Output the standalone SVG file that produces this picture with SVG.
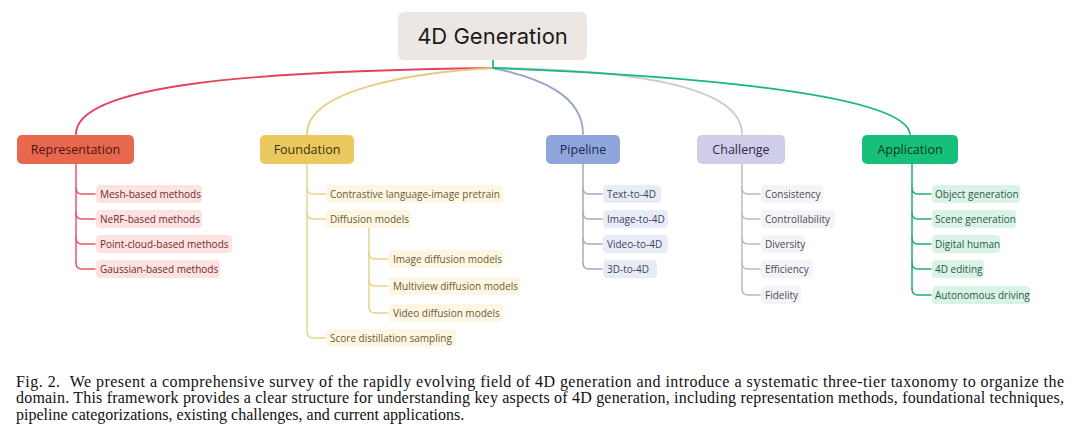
<svg xmlns="http://www.w3.org/2000/svg" width="1080" height="442" viewBox="0 0 1080 442">
<style>
.root{font-family:Inter,"Noto Sans",sans-serif;font-size:22px;fill:#1c1c1c}
.l1{font-family:"Open Sans","Noto Sans",sans-serif;font-size:12.5px}
.c{font-family:"Open Sans","Noto Sans",sans-serif;font-size:10px}
.cap{font-family:"Liberation Serif","Times New Roman",serif;font-size:16px;fill:#111}
.e{fill:none;stroke-width:1.8;stroke-linecap:round}
.b{fill:none;stroke-width:1.5;stroke-linecap:round}
.rep{stroke:#e8566a}.fou{stroke:#e5d48e}.pip{stroke:#a3abbd}.cha{stroke:#babac8}.app{stroke:#1fad78}
.prep{fill:#fde2e2}.pfou{fill:#fdf6e2}.ppip{fill:#e8ecf6}.pcha{fill:#f4f3f8}.papp{fill:#daf3e7}
.trep{fill:#6e2a2a}.tfou{fill:#6a5a32}.tpip{fill:#3a4560}.tcha{fill:#4a4a55}.tapp{fill:#2a5a45}
</style>
<rect width="1080" height="442" fill="#ffffff"/>
<g id="connectors">
  <path class="e" stroke="#18b77a" d="M493,60 V68"/>
  <path class="e" stroke="#e8405f" d="M493,68 C250,71 76,85 76,134"/>
  <path class="e" stroke="#e6c97a" d="M493,68 C420,72 307,88 307,134"/>
  <path class="e" stroke="#98a6c8" d="M493,68 C540,78 583,95 583,134"/>
  <path class="e" stroke="#cac8da" d="M493,68 C650,70 742,90 742,134"/>
  <path class="e" stroke="#18b77a" d="M493,68 C700,76 905,95 910,134"/>
  <!-- Representation -->
  <path class="b rep" d="M76,164 V263"/>
  <path class="b rep" d="M76,188 Q76,194 82,194 H95 M76,213 Q76,219 82,219 H95 M76,238 Q76,244 82,244 H95 M76,263 Q76,269 82,269 H95"/>
  <!-- Foundation -->
  <path class="b fou" d="M307,164 V332"/>
  <path class="b fou" d="M307,188 Q307,194 313,194 H326 M307,213 Q307,219 313,219 H326 M307,332 Q307,338 313,338 H326"/>
  <path class="b fou" d="M369,228 V307"/>
  <path class="b fou" d="M369,253 Q369,259 375,259 H388 M369,280 Q369,286 375,286 H388 M369,307 Q369,313 375,313 H388"/>
  <!-- Pipeline -->
  <path class="b pip" d="M583,164 V263"/>
  <path class="b pip" d="M583,188 Q583,194 589,194 H602 M583,213 Q583,219 589,219 H602 M583,238 Q583,244 589,244 H602 M583,263 Q583,269 589,269 H602"/>
  <!-- Challenge -->
  <path class="b cha" d="M742,164 V289"/>
  <path class="b cha" d="M742,188 Q742,194 748,194 H760 M742,213 Q742,219 748,219 H760 M742,238 Q742,244 748,244 H760 M742,263 Q742,269 748,269 H760 M742,289 Q742,295 748,295 H760"/>
  <!-- Application -->
  <path class="b app" d="M912,164 V289"/>
  <path class="b app" d="M912,188 Q912,194 918,194 H931 M912,213 Q912,219 918,219 H931 M912,238 Q912,244 918,244 H931 M912,263 Q912,269 918,269 H931 M912,289 Q912,295 918,295 H931"/>
</g>
<g id="root">
  <rect x="398" y="12" width="189" height="48" rx="6" fill="#ede7e4"/>
  <text class="root" x="492.5" y="43.5" text-anchor="middle">4D Generation</text>
</g>
<g id="representation">
  <rect x="17" y="135" width="117" height="29" rx="5" fill="#e8674f"/>
  <text class="l1" x="75.5" y="154" text-anchor="middle" fill="#4a150c">Representation</text>
</g>
<g id="foundation">
  <rect x="260" y="135" width="94" height="29" rx="5" fill="#ebc95f"/>
  <text class="l1" x="307" y="154" text-anchor="middle" fill="#3e300c">Foundation</text>
</g>
<g id="pipeline">
  <rect x="546" y="135" width="74" height="29" rx="5" fill="#8fa6dc"/>
  <text class="l1" x="583" y="154" text-anchor="middle" fill="#1c274a">Pipeline</text>
</g>
<g id="challenge">
  <rect x="697" y="135" width="88" height="29" rx="5" fill="#cfcde7"/>
  <text class="l1" x="741" y="154" text-anchor="middle" fill="#2c2c48">Challenge</text>
</g>
<g id="application">
  <rect x="862" y="135" width="96" height="29" rx="5" fill="#17c07a"/>
  <text class="l1" x="910" y="154" text-anchor="middle" fill="#0a3522">Application</text>
</g>
<g id="rep-children">
  <rect class="prep" x="96" y="185" width="106" height="18" rx="4"/><text class="c trep" x="100" y="197.5">Mesh-based methods</text>
  <rect class="prep" x="96" y="210" width="106" height="18" rx="4"/><text class="c trep" x="100" y="222.5">NeRF-based methods</text>
  <rect class="prep" x="96" y="235" width="136" height="18" rx="4"/><text class="c trep" x="100" y="247.5">Point-cloud-based methods</text>
  <rect class="prep" x="96" y="260" width="124" height="18" rx="4"/><text class="c trep" x="100" y="272.5">Gaussian-based methods</text>
</g>
<g id="fou-children">
  <rect class="pfou" x="326" y="185" width="177" height="18" rx="4"/><text class="c tfou" x="330" y="197.5">Contrastive language-image pretrain</text>
  <rect class="pfou" x="326" y="210" width="85" height="18" rx="4"/><text class="c tfou" x="330" y="222.5">Diffusion models</text>
  <rect class="pfou" x="389" y="250" width="114" height="18" rx="4"/><text class="c tfou" x="393" y="262.5">Image diffusion models</text>
  <rect class="pfou" x="389" y="277" width="131" height="18" rx="4"/><text class="c tfou" x="393" y="289.5">Multiview diffusion models</text>
  <rect class="pfou" x="389" y="304" width="114" height="18" rx="4"/><text class="c tfou" x="393" y="316.5">Video diffusion models</text>
  <rect class="pfou" x="326" y="329" width="130" height="18" rx="4"/><text class="c tfou" x="330" y="341.5">Score distillation sampling</text>
</g>
<g id="pip-children">
  <rect class="ppip" x="603" y="185" width="58" height="18" rx="4"/><text class="c tpip" x="607" y="197.5">Text-to-4D</text>
  <rect class="ppip" x="603" y="210" width="65" height="18" rx="4"/><text class="c tpip" x="607" y="222.5">Image-to-4D</text>
  <rect class="ppip" x="603" y="235" width="65" height="18" rx="4"/><text class="c tpip" x="607" y="247.5">Video-to-4D</text>
  <rect class="ppip" x="603" y="260" width="54" height="18" rx="4"/><text class="c tpip" x="607" y="272.5">3D-to-4D</text>
</g>
<g id="cha-children">
  <rect class="pcha" x="761" y="185" width="62" height="18" rx="4"/><text class="c tcha" x="765" y="197.5">Consistency</text>
  <rect class="pcha" x="761" y="210" width="74" height="18" rx="4"/><text class="c tcha" x="765" y="222.5">Controllability</text>
  <rect class="pcha" x="761" y="235" width="44" height="18" rx="4"/><text class="c tcha" x="765" y="247.5">Diversity</text>
  <rect class="pcha" x="761" y="260" width="52" height="18" rx="4"/><text class="c tcha" x="765" y="272.5">Efficiency</text>
  <rect class="pcha" x="761" y="286" width="40" height="18" rx="4"/><text class="c tcha" x="765" y="298.5">Fidelity</text>
</g>
<g id="app-children">
  <rect class="papp" x="932" y="185" width="88" height="18" rx="4"/><text class="c tapp" x="935" y="197.5">Object generation</text>
  <rect class="papp" x="932" y="210" width="84" height="18" rx="4"/><text class="c tapp" x="935" y="222.5">Scene generation</text>
  <rect class="papp" x="932" y="235" width="68" height="18" rx="4"/><text class="c tapp" x="935" y="247.5">Digital human</text>
  <rect class="papp" x="932" y="260" width="52" height="18" rx="4"/><text class="c tapp" x="935" y="272.5">4D editing</text>
  <rect class="papp" x="932" y="286" width="98" height="18" rx="4"/><text class="c tapp" x="935" y="298.5">Autonomous driving</text>
</g>
<g id="caption">
  <text class="cap" x="16" y="386.5" textLength="1048" lengthAdjust="spacing">Fig. 2.<tspan dx="5"> We present a comprehensive survey of the rapidly evolving field of 4D generation and introduce a systematic three-tier taxonomy to organize the</tspan></text>
  <text class="cap" x="16" y="403" textLength="1048" lengthAdjust="spacing">domain. This framework provides a clear structure for understanding key aspects of 4D generation, including representation methods, foundational techniques,</text>
  <text class="cap" x="16" y="419.5">pipeline categorizations, existing challenges, and current applications.</text>
</g>
</svg>
